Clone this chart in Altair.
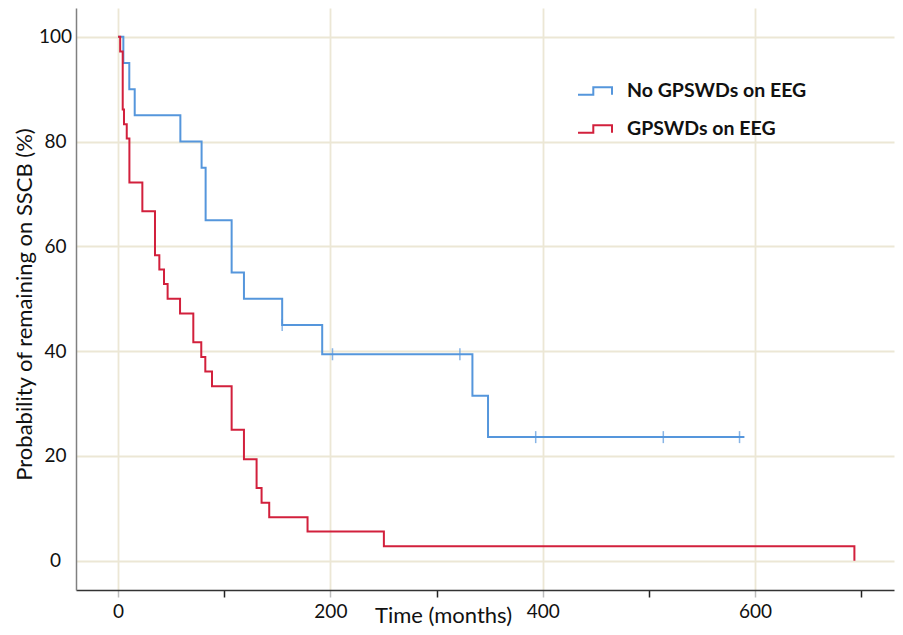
import altair as alt
import pandas as pd

# Kaplan-Meier steps
blue_name = "No GPSWDs on EEG"
red_name = "GPSWDs on EEG"

blue_time = [0, 5, 10.6, 15.7, 58.7, 78.7, 82.5, 107, 118.6, 154.6, 192.3, 333.8, 348.5, 590]
blue_surv = [100, 95, 90, 85, 80, 75, 65, 55, 50, 45, 39.4, 31.5, 23.6, 23.6]

red_time = [0, 2, 4.4, 5.6, 8.2, 10.7, 22.9, 34.8, 38.9, 43.3, 46.7, 58.4, 70.9, 78.4,
            82.2, 88.5, 107, 118.6, 130.5, 135.2, 142.4, 178.5, 250.4, 693.6]
red_surv = [100, 97.2, 86.1, 83.3, 80.6, 72.2, 66.7, 58.3, 55.6, 52.8, 50.0, 47.2, 41.7, 38.9,
            36.1, 33.3, 25.0, 19.4, 13.9, 11.1, 8.3, 5.6, 2.8, 0]

# censored observations (blue group)
cens_time = [154.6, 202, 322, 393.4, 513.6, 585.4]
cens_surv = [45, 39.4, 39.4, 23.6, 23.6, 23.6]

x_ticks = [0, 100, 200, 300, 400, 500, 600, 700]
y_ticks = [0, 20, 40, 60, 80, 100]

BLUE = "#5596dc"
RED = "#d2203c"
GRID = "#ece7d5"
FONT = "Lato"

lines = pd.DataFrame({
    "time": blue_time + red_time,
    "surv": blue_surv + red_surv,
    "group": [blue_name] * len(blue_time) + [red_name] * len(red_time),
})
cens = pd.DataFrame({"time": cens_time, "surv": cens_surv})

x_scale = alt.Scale(domain=[-39.6, 730.9], nice=False, zero=False)
y_scale = alt.Scale(domain=[-5.57, 105.48], nice=False, zero=False)

x_axis = alt.Axis(
    values=x_ticks,
    title="Time (months)",
    titleFont=FONT, titleFontSize=22, titleFontWeight="normal", titleColor="#111",
    titleX=367, titleY=32, titleAlign="center", titleBaseline="alphabetic",
    labelExpr="datum.value % 200 === 0 ? datum.label : ''",
    labelFont=FONT, labelFontSize=19, labelColor="#111", labelPadding=5,
    tickSize=7, tickWidth=1.5,
    tickColor={"condition": {"test": "datum.value % 200 === 0", "value": "#bdbdbd"}, "value": "#222"},
    grid=True, gridColor=GRID, gridWidth=1.8,
    gridOpacity={"condition": {"test": "datum.value % 200 === 0", "value": 1}, "value": 0},
    domainColor="#333", domainWidth=1.5,
)
y_axis = alt.Axis(
    values=y_ticks,
    title="Probability of remaining on SSCB (%)",
    titleFont=FONT, titleFontSize=22, titleFontWeight="normal", titleColor="#111",
    titleX=-52, titleY=296, titleAlign="center", titleBaseline="middle", titleAngle=270,
    labelFont=FONT, labelFontSize=19, labelColor="#111", labelAlign="center",
    labelPadding=21, ticks=False,
    grid=True, gridColor=GRID, gridWidth=1.8,
    domainColor="#808080", domainWidth=1.5,
)

step_path = "M-1,0.22H-0.1V-0.22H1V0.22"

line_layer = alt.Chart(lines).mark_line(interpolate="step-after", strokeWidth=2).encode(
    x=alt.X("time:Q", scale=x_scale, axis=x_axis),
    y=alt.Y("surv:Q", scale=y_scale, axis=y_axis),
    color=alt.Color(
        "group:N",
        scale=alt.Scale(domain=[blue_name, red_name], range=[BLUE, RED]),
        legend=alt.Legend(
            title=None, orient="none", legendX=501, legendY=65,
            symbolType=step_path, symbolSize=1156, symbolStrokeWidth=2,
            labelFont=FONT, labelFontSize=19.5, labelFontWeight="bold", labelColor="#111",
            labelOffset=14, labelLimit=0, rowPadding=10, padding=0,
        ),
    ),
    order=alt.Order("time:Q"),
)

cens_layer = alt.Chart(cens).mark_tick(orient="vertical", size=12, thickness=1.5, color=BLUE).encode(
    x=alt.X("time:Q", scale=x_scale),
    y=alt.Y("surv:Q", scale=y_scale),
)

chart = alt.layer(line_layer, cens_layer).properties(
    width=818, height=582,
    autosize=alt.AutoSizeParams(type="none"),
    padding={"left": 68, "top": 0, "right": 1, "bottom": 37},
    background="white",
).configure_view(strokeWidth=0)

chart.save("out.html", embed_options={"renderer": "svg", "actions": False})
